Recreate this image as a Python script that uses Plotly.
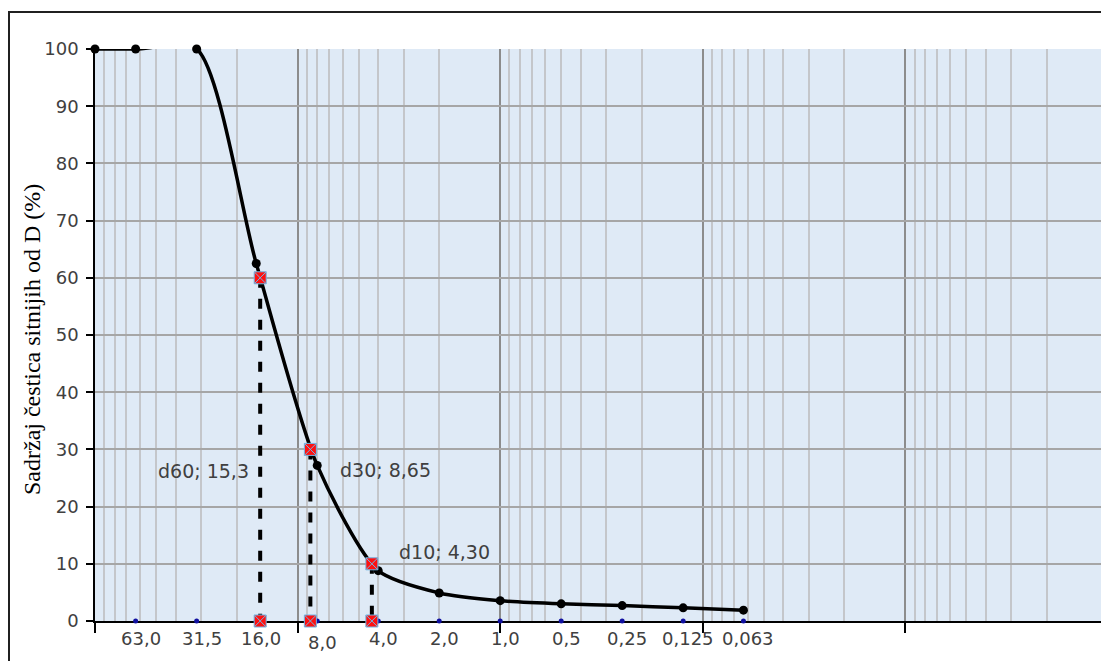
import math
import plotly.graph_objects as go

# ---- data ----
sieve_mm = [100, 63, 31.5, 16, 8, 4, 2, 1, 0.5, 0.25, 0.125, 0.063]
passing_pct = [100, 100, 100, 62.5, 27.2, 8.8, 4.9, 3.55, 3.0, 2.7, 2.3, 1.9]

label_sizes = [63, 31.5, 16, 8, 4, 2, 1, 0.5, 0.25, 0.125, 0.063]
label_texts = ["63,0", "31,5", "16,0", "8,0", "4,0", "2,0", "1,0", "0,5", "0,25", "0,125", "0,063"]

d_names = ["d60", "d30", "d10"]
d_sizes = [15.3, 8.65, 4.30]
d_pct = [60, 30, 10]
d_texts = ["d60; 15,3", "d30; 8,65", "d10; 4,30"]

y_title = "Sadržaj čestica sitnijih od D (%)"

# ---- layout geometry (page has an 8px body margin) ----
OFF = 8
W, H = 1109 - OFF, 661 - OFF
ML, MR, MT, MB = 95 - OFF, 1, 49 - OFF, 40
PW = W - ML - MR
PH = H - MT - MB


def px_x(p):  # page pixel -> paper
    return (p - OFF - ML) / PW


def px_y(p):
    return (OFF + H - MB - p) / PH


FONT = "DejaVu Sans"
TXT = "#404040"

fig = go.Figure()

# dashed helper lines
dx, dy = [], []
for s, p in zip(d_sizes, d_pct):
    dx += [s, s, None]
    dy += [p, 0, None]
fig.add_trace(go.Scatter(x=dx, y=dy, mode="lines",
                         line=dict(color="black", width=4, dash="10px,11px"),
                         hoverinfo="skip", showlegend=False))

# grading curve (smoothed)
fig.add_trace(go.Scatter(x=sieve_mm, y=passing_pct, mode="lines",
                         line=dict(color="black", width=3.5, shape="spline", smoothing=0.7),
                         showlegend=False))
fig.add_trace(go.Scatter(x=sieve_mm, y=passing_pct, mode="markers",
                         marker=dict(color="black", size=9),
                         cliponaxis=False, showlegend=False))

# sieve positions on the axis
fig.add_trace(go.Scatter(x=label_sizes, y=[0] * len(label_sizes), mode="markers",
                         marker=dict(color="#1010a0", size=5),
                         cliponaxis=False, showlegend=False))

# characteristic diameters
mx = d_sizes + d_sizes
my = d_pct + [0] * len(d_pct)
fig.add_trace(go.Scatter(x=mx, y=my, mode="markers",
                         marker=dict(symbol="square-x", color="#ff1010", size=12,
                                     line=dict(color="#6fb7e6", width=1)),
                         cliponaxis=False, showlegend=False))

annotations = []
# sieve labels under axis
for s, t in zip(label_sizes, label_texts):
    yy = 642 if t == "8,0" else 638
    annotations.append(dict(x=math.log10(s), xref="x", y=px_y(yy), yref="paper",
                            text=t, showarrow=False, xshift=5,
                            font=dict(family=FONT, size=18, color=TXT),
                            xanchor="center", yanchor="middle"))

# d labels
d_label_cfg = [  # (xanchor, xshift, y)
    ("right", -9, 26.2),
    ("left", 28, 26.4),
    ("left", 25, 12.1),
]
for s, t, (xa, xs, yv) in zip(d_sizes, d_texts, d_label_cfg):
    annotations.append(dict(x=math.log10(s), xref="x", y=yv, yref="y",
                            text=t, showarrow=False, xanchor=xa, xshift=xs,
                            yanchor="middle",
                            font=dict(family=FONT, size=19, color=TXT)))

# y title
annotations.append(dict(x=px_x(32), xref="paper", y=px_y(340), yref="paper",
                        text=y_title, showarrow=False, textangle=-90,
                        xanchor="center", yanchor="middle",
                        font=dict(family="Liberation Serif", size=24, color="black")))

fig.update_layout(
    width=W, height=H,
    margin=dict(l=ML, r=MR, t=MT, b=MB, pad=0),
    paper_bgcolor="white",
    plot_bgcolor="#dfeaf6",
    showlegend=False,
    annotations=annotations,
    shapes=[dict(type="rect", xref="paper", yref="paper",
                 x0=px_x(9), x1=px_x(1130), y0=px_y(700), y1=px_y(12),
                 line=dict(color="#202020", width=2), fillcolor="rgba(0,0,0,0)",
                 layer="below")],
    xaxis=dict(type="log", range=[2, -3],
               tickvals=[100, 10, 1, 0.1, 0.01, 0.001],
               showticklabels=False, ticks="outside", ticklen=10,
               tickcolor="black", tickwidth=1.5,
               showgrid=True, gridcolor="#8c8c8c", gridwidth=1.5,
               showline=True, linecolor="black", linewidth=1.5,
               zeroline=False, layer="below traces",
               minor=dict(dtick="D1", showgrid=True, gridcolor="#c4c6ca", gridwidth=1.5,
                          ticks="")),
    yaxis=dict(range=[0, 100], dtick=10, tick0=0,
               ticks="outside", ticklen=7, tickcolor="black", tickwidth=1.5,
               showgrid=True, gridcolor="#a6a6a6", gridwidth=1.5,
               showline=True, linecolor="black", linewidth=1.5,
               zeroline=False, ticklabelstandoff=4, layer="below traces",
               tickfont=dict(family=FONT, size=18, color=TXT)),
)

fig.write_html("out.html")
